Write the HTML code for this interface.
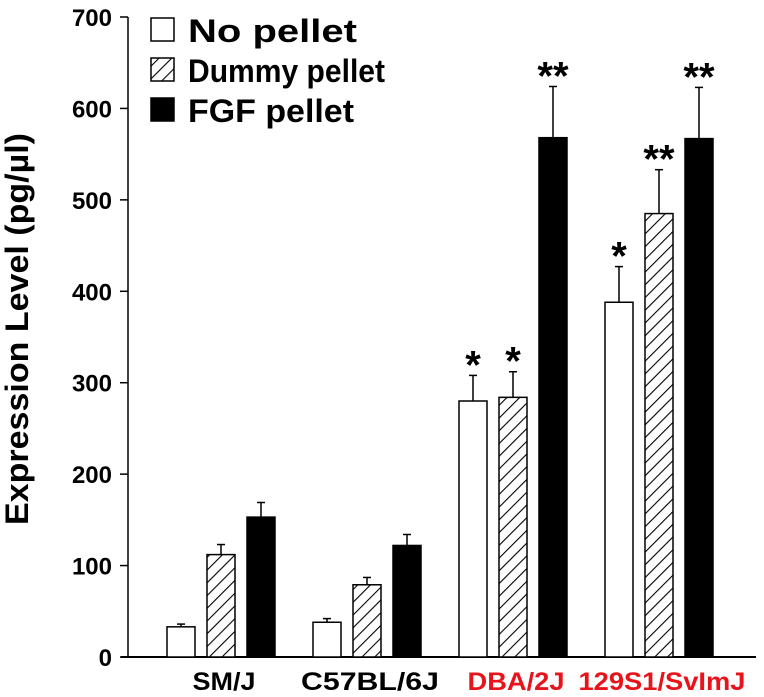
<!DOCTYPE html>
<html><head><meta charset="utf-8">
<style>
html,body{margin:0;padding:0;background:#fff;}
svg{display:block;font-family:"Liberation Sans",Arial,sans-serif;font-weight:bold;}
</style></head>
<body>
<svg id="chart" width="764" height="697" viewBox="0 0 764 697">
<defs>
<pattern id="hatch" patternUnits="userSpaceOnUse" width="9" height="9" patternTransform="rotate(45)">
<rect width="9" height="9" fill="#fff"/>
<line x1="0" y1="0" x2="0" y2="9" stroke="#000" stroke-width="2.2"/>
</pattern>
</defs>
<g id="plot"></g>
<text x="28" y="329" transform="rotate(-90 28 329)" text-anchor="middle" font-size="32" textLength="392" lengthAdjust="spacingAndGlyphs">Expression Level (pg/µl)</text>
<g>
<rect x="151" y="18" width="23" height="23" fill="#fff" stroke="#000" stroke-width="1.5"/>
<text x="188" y="42" font-size="32" textLength="169" lengthAdjust="spacingAndGlyphs">No pellet</text>
<rect x="151" y="58" width="23" height="23" fill="url(#hatch)" stroke="#000" stroke-width="1.5"/>
<text x="188" y="82" font-size="32" textLength="197" lengthAdjust="spacingAndGlyphs">Dummy pellet</text>
<rect x="151" y="98" width="23" height="23" fill="#000" stroke="#000" stroke-width="1.5"/>
<text x="188" y="122" font-size="32" textLength="166" lengthAdjust="spacingAndGlyphs">FGF pellet</text>
</g>
</svg>
<script>
const categories = ["SM/J","C57BL/6J","DBA/2J","129S1/SvImJ"];
const categoryColors = ["#000","#000","#e8141c","#e8141c"];
const categoryWidths = [63, 138, 97, 167];
const noPellet = [33, 38, 280, 388];
const noPelletErr = [3, 4, 28, 39];
const dummyPellet = [112, 79, 284, 485];
const dummyPelletErr = [11, 8, 28, 48];
const fgfPellet = [153, 122, 568, 567];
const fgfPelletErr = [16, 12, 56, 56];
const noPelletSig = ["", "", "*", "*"];
const dummyPelletSig = ["", "", "*", "**"];
const fgfPelletSig = ["", "", "**", "**"];
const yTicks = [0,100,200,300,400,500,600,700];

const NS="http://www.w3.org/2000/svg";
const g=document.getElementById('plot');
const axX=128, y0=657, yTop=17, yMax=700;
function yScale(v){return y0-(v/yMax)*(y0-yTop);}
const groupStart=167, groupStride=146, barW=28, barStride=40;
function xBar(ci,si){return groupStart+ci*groupStride+si*barStride;}
function mk(tag,attrs){const e=document.createElementNS(NS,tag);for(const k in attrs)e.setAttribute(k,attrs[k]);g.appendChild(e);return e;}

let ax=mk('line',{x1:axX,y1:yTop,x2:axX,y2:y0,stroke:'#000','stroke-width':1.5});


let bx=mk('line',{x1:axX-7,y1:y0,x2:756,y2:y0,stroke:'#000','stroke-width':2});


yTicks.forEach(t=>{
  const y=yScale(t);
  const tk=mk('line',{x1:axX-8,y1:y,x2:axX,y2:y,stroke:'#000','stroke-width':1.5});
  
  
  const tx=mk('text',{x:112,y:y+9,'text-anchor':'end','font-size':24});
  tx.textContent=t;
  
  
});
const series=[[noPellet,noPelletErr,noPelletSig,'#fff','no-pellet'],[dummyPellet,dummyPelletErr,dummyPelletSig,'url(#hatch)','dummy-pellet'],[fgfPellet,fgfPelletErr,fgfPelletSig,'#000','fgf-pellet']];
categories.forEach((c,ci)=>{
  series.forEach((s,si)=>{
    const v=s[0][ci], e=s[1][ci];
    const x=xBar(ci,si), yt=yScale(v), ye=yScale(v+e), cx=x+barW/2;
    const el=mk('line',{x1:cx,y1:yt,x2:cx,y2:ye,stroke:'#000','stroke-width':1.5});
    
    
    const cap=mk('line',{x1:cx-4,y1:ye,x2:cx+4,y2:ye,stroke:'#000','stroke-width':1.5});
    
    
    const r=mk('rect',{x:x,y:yt,width:barW,height:y0-yt,fill:s[3],stroke:'#000','stroke-width':1.5});
    
    
    if(s[2][ci]){
      const st=mk('text',{x:cx,y:ye+3,'text-anchor':'middle','font-size':40});
      st.textContent=s[2][ci];
      
      
    }
  });
  const lx=xBar(ci,1)+barW/2+3;
  const lt=mk('text',{x:lx,y:690,'text-anchor':'middle','font-size':25,fill:categoryColors[ci],textLength:categoryWidths[ci],lengthAdjust:'spacingAndGlyphs'});
  lt.textContent=c;
  
  
});
</script>
</body></html>
